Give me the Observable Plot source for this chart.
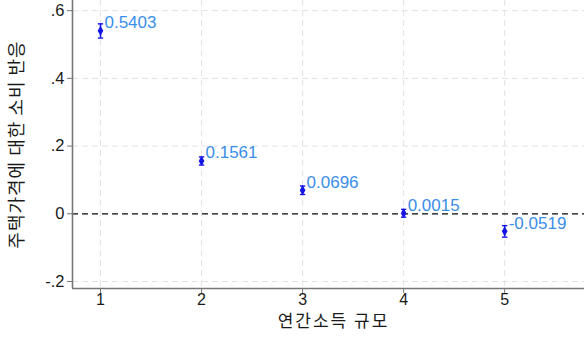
<!DOCTYPE html>
<html>
<head>
<meta charset="utf-8">
<script src="https://cdn.jsdelivr.net/npm/d3@7"></script>
<script src="https://cdn.jsdelivr.net/npm/@observablehq/plot@0.6"></script>
<style>
  html, body { margin: 0; padding: 0; background: #fff; }
  #chart svg { display: block; }
</style>
</head>
<body>
<div id="chart"></div>
<script>
// Income group on x, estimated consumption response with 95% interval on y
const groups = [1, 2, 3, 4, 5];
const coef = [0.5403, 0.1561, 0.0696, 0.0015, -0.0519];
const ciLow = [0.519, 0.144, 0.057, -0.010, -0.069];
const ciHigh = [0.561, 0.168, 0.082, 0.013, -0.035];
const xTicks = [1, 2, 3, 4, 5];
const yTicks = [-0.2, 0, 0.2, 0.4, 0.6];
const xTitle = "연간소득 규모";
const yTitle = "주택가격에 대한 소비 반응";

const rows = groups.map((g, i) => ({g, b: coef[i], lo: ciLow[i], hi: ciHigh[i]}));

const xDomain = [0.723, 5.79];
const yDomain = [-0.2207, 0.63];

// plain hyphen-minus, Stata-style leading-dot decimals
const hyphen = s => s.replace(/\u2212/g, "-");
const fmtY = d => d === 0 ? "0" : hyphen(d3.format(".1f")(d)).replace("0.", ".");
const fmtB = d => hyphen(d3.format(".4f")(d));

// horizontal cap glyph for the interval ends
const cap = {
  draw(ctx, size) {
    const w = Math.sqrt(size);
    ctx.moveTo(-w / 2, 0);
    ctx.lineTo(w / 2, 0);
  }
};

const fontFamily = "'Liberation Sans', Arial, 'Noto Sans CJK KR', sans-serif";
const krFont = "'Noto Sans CJK KR', sans-serif";
const axisColor = "#777";
const ink = "#1a1a1a";

const chart = Plot.plot({
  width: 584,
  height: 340,
  marginLeft: 72,
  marginRight: 0,
  marginTop: 0,
  marginBottom: 52,
  style: {fontFamily, fontSize: "16px", background: "#fff", overflow: "visible"},
  x: {domain: xDomain},
  y: {domain: yDomain},
  marks: [
    Plot.gridY(yTicks, {stroke: "#e3e3e3", strokeOpacity: 1, strokeDasharray: "6,4"}),
    Plot.gridX(xTicks, {stroke: "#e3e3e3", strokeOpacity: 1, strokeDasharray: "6,4"}),
    Plot.ruleY([0], {stroke: "#111", strokeWidth: 1.3, strokeDasharray: "6,4"}),
    Plot.ruleX([xDomain[0]], {stroke: axisColor, strokeWidth: 1.6}),
    Plot.ruleY([yDomain[0]], {stroke: axisColor, strokeWidth: 1.6}),
    // tick marks only; labels are drawn as text below
    Plot.axisY(yTicks, {tickSize: 5, stroke: axisColor, tickFormat: () => "", label: null}),
    Plot.axisX(xTicks, {tickSize: 5, stroke: axisColor, tickFormat: () => "", label: null}),
    Plot.text(yTicks, {
      x: () => xDomain[0], y: d => d, text: fmtY, textAnchor: "end",
      dx: -8, fontSize: 16.5, fill: ink
    }),
    Plot.text(xTicks, {
      x: d => d, y: () => yDomain[0], text: d => String(d), lineAnchor: "top",
      dy: 5, fontSize: 16, fill: ink
    }),
    Plot.text([yTitle], {
      frameAnchor: "left", textAnchor: "middle", rotate: -90, dx: -55,
      fontSize: 18, fill: ink, fontFamily: krFont
    }),
    Plot.text([xTitle], {
      frameAnchor: "bottom", textAnchor: "middle", dy: 38, dx: 5,
      fontSize: 17, fill: ink, fontFamily: krFont
    }),
    Plot.ruleX(rows, {x: "g", y1: "lo", y2: "hi", stroke: "#1414e6", strokeWidth: 1.6}),
    Plot.dot(rows, {x: "g", y: "lo", symbol: cap, r: 3, stroke: "#1414e6", strokeWidth: 1.4, fill: "none"}),
    Plot.dot(rows, {x: "g", y: "hi", symbol: cap, r: 3, stroke: "#1414e6", strokeWidth: 1.4, fill: "none"}),
    Plot.dot(rows, {x: "g", y: "b", symbol: "diamond", r: 3, fill: "#1414e6", stroke: "none"}),
    Plot.text(rows, {
      x: "g", y: "b", text: d => fmtB(d.b),
      textAnchor: "start", dx: 4, dy: -8, fontSize: 17, fill: "#3a8ee8"
    })
  ]
});

// wider tracking for the axis titles
d3.select(chart).selectAll("text")
  .filter(function () { return this.textContent === yTitle; })
  .attr("letter-spacing", 1);
d3.select(chart).selectAll("text")
  .filter(function () { return this.textContent === xTitle; })
  .attr("letter-spacing", 2);

document.getElementById("chart").appendChild(chart);
</script>
</body>
</html>
